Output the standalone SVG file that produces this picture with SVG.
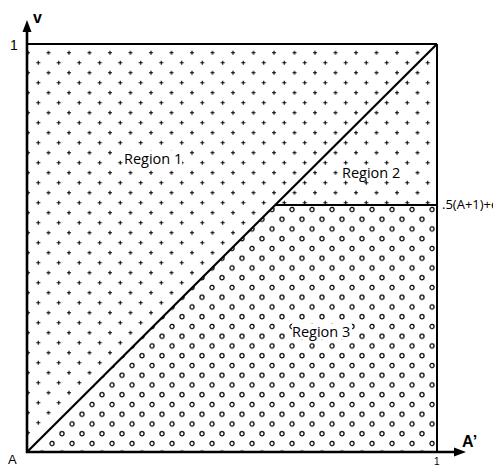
<svg xmlns="http://www.w3.org/2000/svg" width="493" height="467" viewBox="0 0 493 467">
<style>
.lbl{font-family:"Open Sans","Noto Sans","Liberation Sans",sans-serif;fill:#000}
.ax{font-family:"Liberation Sans",Arial,sans-serif;fill:#000}
.ln{stroke:#000;fill:none}
.bg{fill:#fff}
</style>
<defs>
<pattern id="plus" x="28" y="43" width="20.5" height="20" patternUnits="userSpaceOnUse">
<path d="M18.5 9.7h4M20.5 7.7v4M8.25 -0.3h4M10.25 -2.3v4M8.25 19.7h4M10.25 17.7v4M-2 9.7h4M0 7.7v4" stroke="#000" stroke-width="1.1"/>
</pattern>
<pattern id="circ" x="27" y="205" width="20" height="19.5" patternUnits="userSpaceOnUse">
<circle cx="5" cy="4.5" r="2.1" fill="none" stroke="#000" stroke-width="1.2"/>
<circle cx="15" cy="14.25" r="2.1" fill="none" stroke="#000" stroke-width="1.2"/>
</pattern>
</defs>
<rect width="493" height="467" fill="#fff"/>
<g id="regions">
<polygon id="region1-2" points="27,452 27,44 437,44 437,205 275,205" fill="url(#plus)"/>
<polygon id="region3" points="27,452 275,205 437,205 437,452" fill="url(#circ)"/>
</g>
<g id="connectors">
<line class="ln" x1="27" y1="44" x2="437" y2="44" stroke-width="2.2"/>
<line class="ln" x1="437" y1="44" x2="437" y2="452" stroke-width="2"/>
<line class="ln" x1="27" y1="452" x2="437" y2="44" stroke-width="2.2"/>
<line class="ln" x1="275" y1="205" x2="437" y2="205" stroke-width="2"/>
<line class="ln" x1="27" y1="453" x2="27" y2="30" stroke-width="2.6"/>
<polygon points="27,20 22.5,32 31.5,32" fill="#000"/>
<line class="ln" x1="26" y1="452" x2="456" y2="452" stroke-width="2.6"/>
<polygon points="466,452 454,447.5 454,456.5" fill="#000"/>
</g>
<g id="labels">
<g id="region1"><rect class="bg" x="124" y="151" width="58" height="15"/><text class="lbl" x="124" y="164" font-size="14.5">Region 1</text></g>
<g id="region2"><rect class="bg" x="342" y="165" width="58" height="15"/><text class="lbl" x="342" y="178" font-size="14.5">Region 2</text></g>
<g id="region3-label"><rect class="bg" x="292" y="324" width="60" height="15"/><text class="lbl" x="292" y="337" font-size="14.5">Region 3</text></g>
<text class="lbl" x="442" y="209" font-size="13">.5(A+1)+ϵ</text>
<text class="ax" x="33" y="23" font-size="16" font-weight="bold">v</text>
<text class="ax" x="10" y="50" font-size="14">1</text>
<text class="ax" x="8" y="464" font-size="13">A</text>
<text class="ax" x="462" y="447" font-size="16" font-weight="bold">A’</text>
<text class="ax" x="434" y="465" font-size="10">1</text>
</g>
</svg>
